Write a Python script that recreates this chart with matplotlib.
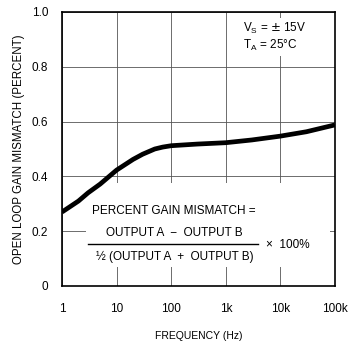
import matplotlib
matplotlib.use("Agg")
import matplotlib.pyplot as plt
from matplotlib.patches import Rectangle

plt.rcParams['font.family'] = ['Liberation Sans', 'DejaVu Sans']

freq_hz = [1, 2, 3, 5, 10, 20, 30, 50, 70, 100, 300, 1000, 3000, 10000, 30000, 100000]
mismatch_pct = [0.27, 0.31, 0.34, 0.372, 0.423, 0.462, 0.481, 0.50, 0.507, 0.512, 0.518, 0.523, 0.533, 0.547, 0.563, 0.588]
x_ticks = [1, 10, 100, 1000, 10000, 100000]
x_labels = ['1', '10', '100', '1k', '10k', '100k']
y_ticks = [0, 0.2, 0.4, 0.6, 0.8, 1.0]
y_labels = ['0', '0.2', '0.4', '0.6', '0.8', '1.0']

fig = plt.figure(figsize=(3.51, 3.41), dpi=100)
W, H = 351, 341
ax = fig.add_axes([62 / W, 1 - 286 / H, (335 - 62) / W, (286 - 12) / H])
ax.set_xscale('log')
ax.set_xlim(1, 100000)
ax.set_ylim(0, 1.0)
ax.set_axisbelow(True)
ax.plot(freq_hz, mismatch_pct, color='black', lw=3.4, solid_capstyle='butt', zorder=2)
ax.set_xticks(x_ticks)
ax.set_xticklabels(x_labels)
ax.set_yticks(y_ticks)
ax.set_yticklabels(y_labels)
ax.minorticks_off()
ax.tick_params(length=0, labelsize=8.5, pad=10)
ax.tick_params(axis='x', pad=12)
ax.grid(True, color='#555555', lw=0.6)
for s in ax.spines.values():
    s.set_linewidth(1.2)
ax.set_xlabel('FREQUENCY (Hz)', fontsize=7.5, labelpad=12)
ax.set_ylabel('OPEN LOOP GAIN MISMATCH (PERCENT)', fontsize=8.3, labelpad=5)

fx = lambda px: (px - 62) / (335 - 62)
fy = lambda py: (286 - py) / (286 - 12)

# white boxes hiding the grid behind the annotations
ax.add_patch(Rectangle((fx(238), fy(56)), fx(320) - fx(238), fy(18) - fy(56),
                       transform=ax.transAxes, facecolor='white', edgecolor='none', zorder=1))
ax.add_patch(Rectangle((fx(86), fy(267)), fx(330) - fx(86), fy(183) - fy(267),
                       transform=ax.transAxes, facecolor='white', edgecolor='none', zorder=1))

ax.text(fx(243), fy(28), r'V$_\mathregular{S}$ = $\pm$ 15V', transform=ax.transAxes, fontsize=8.5, va='center', zorder=3)
ax.text(fx(243), fy(45), r'T$_\mathregular{A}$ = 25°C', transform=ax.transAxes, fontsize=8.5, va='center', zorder=3)

ax.text(fx(92), fy(211), 'PERCENT GAIN MISMATCH =', transform=ax.transAxes, fontsize=8.5, va='center', ha='left', zorder=3)
ax.text(fx(174), fy(233), 'OUTPUT A  \u2212  OUTPUT B', transform=ax.transAxes, fontsize=8.5, va='center', ha='center', zorder=3)
ax.plot([fx(88), fx(258)], [fy(244), fy(244)], transform=ax.transAxes, color='black', lw=1.0, zorder=3)
ax.text(fx(175), fy(257), '\u00bd (OUTPUT A  +  OUTPUT B)', transform=ax.transAxes, fontsize=8.5, va='center', ha='center', zorder=3)
ax.text(fx(266), fy(245), '\u00d7  100%', transform=ax.transAxes, fontsize=8.5, va='center', ha='left', zorder=3)

fig.savefig('out.png', dpi=100)
